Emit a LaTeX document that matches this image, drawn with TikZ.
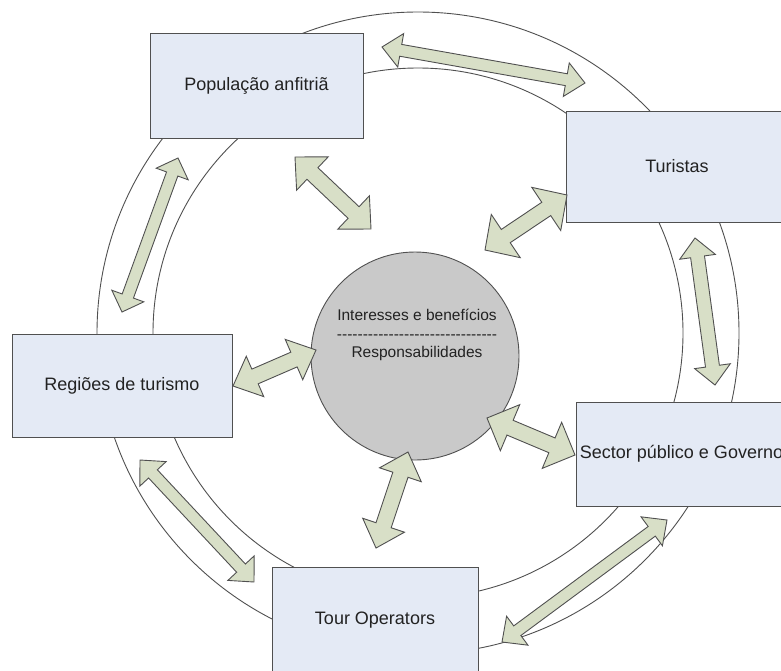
\documentclass[tikz,border=0pt]{standalone}
\usepackage{fontspec}
\setmainfont{Liberation Sans}
\usetikzlibrary{calc}
\definecolor{boxfill}{HTML}{E4EAF5}
\definecolor{arrowfill}{HTML}{D8DFC7}
\definecolor{circfill}{HTML}{C9C9C9}
\definecolor{lineg}{HTML}{505050}
\definecolor{txt}{HTML}{222222}
\tikzset{
  actor/.style={draw=lineg, line width=1pt, fill=boxfill, inner sep=0pt,
    text=txt, font=\fontsize{18}{21}\selectfont},
  ring/.style={draw=lineg, line width=0.9pt},
  barrow/.style={draw=lineg, line width=0.9pt, fill=arrowfill, line join=miter},
  ctext/.style={text=txt, inner sep=0pt, anchor=base, font=\fontsize{15.5}{18.5}\selectfont}
}
\newcommand{\hy}{-\kern0pt }
\newcommand{\hyten}{\hy\hy\hy\hy\hy\hy\hy\hy\hy\hy}
\newcommand{\blockarrow}[5]{%
  \filldraw[barrow] (#1)
    -- ($(#1)!#3!(#2)!#4!90:(#2)$)
    -- ($(#1)!#3!(#2)!#5!90:(#2)$)
    -- ($(#2)!#3!(#1)!#5!-90:(#1)$)
    -- ($(#2)!#3!(#1)!#4!-90:(#1)$)
    -- (#2)
    -- ($(#2)!#3!(#1)!#4!90:(#1)$)
    -- ($(#2)!#3!(#1)!#5!90:(#1)$)
    -- ($(#1)!#3!(#2)!#5!-90:(#2)$)
    -- ($(#1)!#3!(#2)!#4!-90:(#2)$)
    -- cycle;}
\begin{document}
\begin{tikzpicture}[x=1pt,y=-1pt]
\useasboundingbox (0,0) rectangle (781,670);
\clip (0,0) rectangle (781,670);
\fill[white] (0,0) rectangle (781,670);
% rings
\draw[ring] (418,333) circle [radius=321pt];
\draw[ring] (418,333) circle [radius=265pt];
% actor boxes
\node[actor, minimum width=213pt, minimum height=105pt] (pop) at (256.5,85.5) {População anfitriã};
\node[actor, minimum width=222pt, minimum height=111pt] (tur) at (677,166.5) {Turistas};
\node[actor, minimum width=220pt, minimum height=103pt] (reg) at (122,385.5) {Regiões de turismo};
\node[actor, minimum width=211pt, minimum height=104pt] (sec) at (681.5,454) {Sector público e Governo};
\node[actor, minimum width=206pt, minimum height=106pt] (tour) at (375,620) {Tour Operators};
% central circle
\node[circle, draw=lineg, line width=0.9pt, fill=circfill, minimum size=208pt, inner sep=0pt] (core) at (415,356) {};
\node[ctext] (l1) at (417,320.5) {Interesses e benefícios};
\node[ctext] (l2) at (417,339) {\hyten\hyten\hyten\hy};
\node[ctext] (l3) at (417,357.5) {Responsabilidades};
% arrow end points
\coordinate (a1s) at (382,47);   \coordinate (a1e) at (585,83);
\coordinate (a2s) at (485,250);  \coordinate (a2e) at (567,195);
\coordinate (a3s) at (295,157);  \coordinate (a3e) at (371,229);
\coordinate (a4s) at (178,158);  \coordinate (a4e) at (122,312);
\coordinate (a5s) at (233,386);  \coordinate (a5e) at (316,350);
\coordinate (a6s) at (695,238);  \coordinate (a6e) at (715,385);
\coordinate (a7s) at (487,418);  \coordinate (a7e) at (575,455);
\coordinate (a8s) at (502,642);  \coordinate (a8e) at (667,520);
\coordinate (a9s) at (408,452);  \coordinate (a9e) at (376,548);
\coordinate (a10s) at (140,460); \coordinate (a10e) at (254,582);
% block arrows
\blockarrow{a1s}{a1e}{19pt}{17pt}{6pt}
\blockarrow{a2s}{a2e}{25pt}{26pt}{8pt}
\blockarrow{a3s}{a3e}{24pt}{23pt}{8pt}
\blockarrow{a4s}{a4e}{17pt}{17pt}{6pt}
\blockarrow{a5s}{a5e}{24pt}{22pt}{8pt}
\blockarrow{a6s}{a6e}{19pt}{18pt}{7pt}
\blockarrow{a7s}{a7e}{25pt}{25pt}{8pt}
\blockarrow{a8s}{a8e}{19pt}{18pt}{6pt}
\blockarrow{a9s}{a9e}{24pt}{22pt}{8pt}
\blockarrow{a10s}{a10e}{19pt}{18pt}{6pt}
\end{tikzpicture}
\end{document}
